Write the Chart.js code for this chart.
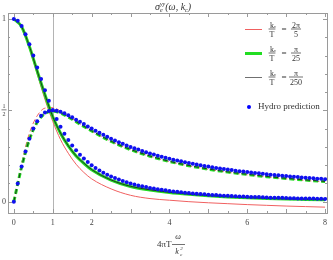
<!DOCTYPE html>
<html>
<head>
<meta charset="utf-8">
<script src="https://cdn.jsdelivr.net/npm/chart.js@4.4.0/dist/chart.umd.min.js"></script>
<style>
html, body { margin: 0; padding: 0; background: #fff; }
#wrap { width: 333px; height: 260px; }
</style>
</head>
<body>
<div id="wrap"><canvas id="myChart" width="333" height="260"></canvas></div>
<script>
// omega values used for the three curves
let lineW = [0, 0.2, 0.4, 0.6, 0.8, 1, 1.2, 1.4, 1.6, 1.8, 2, 2.5, 3, 3.5, 4, 4.5, 5, 5.5, 6, 6.5, 7, 7.5, 8];

// k/T = 2pi/5 (red)
let redRe = [1, 0.955, 0.84, 0.70, 0.56, 0.44, 0.34, 0.265, 0.205, 0.16, 0.125, 0.07, 0.035, 0.017, 0.008, 0.0, -0.006, -0.011, -0.016, -0.02, -0.024, -0.027, -0.03];
let redIm = [0, 0.21, 0.375, 0.47, 0.512, 0.515, 0.496, 0.468, 0.44, 0.412, 0.386, 0.33, 0.285, 0.249, 0.219, 0.196, 0.177, 0.161, 0.147, 0.135, 0.125, 0.116, 0.108];

// k/T = pi/25 (green)
let greenRe = [1, 0.958, 0.85, 0.715, 0.585, 0.465, 0.375, 0.305, 0.25, 0.21, 0.175, 0.118, 0.083, 0.064, 0.05, 0.04, 0.032, 0.026, 0.021, 0.017, 0.014, 0.012, 0.01];
let greenIm = [0, 0.19, 0.34, 0.435, 0.482, 0.495, 0.485, 0.463, 0.438, 0.412, 0.387, 0.33, 0.285, 0.249, 0.22, 0.197, 0.178, 0.162, 0.149, 0.137, 0.127, 0.118, 0.11];

// k/T = pi/250 (black) sits on top of the green one
let blackRe = [1, 0.958, 0.851, 0.716, 0.586, 0.466, 0.376, 0.306, 0.251, 0.211, 0.176, 0.119, 0.084, 0.065, 0.051, 0.041, 0.033, 0.027, 0.022, 0.018, 0.015, 0.013, 0.011];
let blackIm = [0, 0.19, 0.341, 0.436, 0.483, 0.496, 0.486, 0.464, 0.439, 0.413, 0.388, 0.331, 0.286, 0.25, 0.221, 0.198, 0.179, 0.163, 0.15, 0.138, 0.128, 0.119, 0.111];

// hydro prediction (blue dots)
let hydroW = [0, 0.1, 0.2, 0.3, 0.4, 0.5, 0.6, 0.7, 0.8, 0.9, 1, 1.1, 1.2, 1.3, 1.4, 1.5, 1.6, 1.7, 1.8, 1.9, 2, 2.1, 2.2, 2.3, 2.4, 2.5, 2.6, 2.7, 2.8, 2.9, 3, 3.1, 3.2, 3.3, 3.4, 3.5, 3.6, 3.7, 3.8, 3.9, 4, 4.1, 4.2, 4.3, 4.4, 4.5, 4.6, 4.7, 4.8, 4.9, 5, 5.1, 5.2, 5.3, 5.4, 5.5, 5.6, 5.7, 5.8, 5.9, 6, 6.1, 6.2, 6.3, 6.4, 6.5, 6.6, 6.7, 6.8, 6.9, 7, 7.1, 7.2, 7.3, 7.4, 7.5, 7.6, 7.7, 7.8, 7.9, 8];
let hydroRe = [1, 0.990, 0.962, 0.917, 0.862, 0.800, 0.735, 0.671, 0.610, 0.552, 0.500, 0.452, 0.410, 0.372, 0.338, 0.308, 0.281, 0.257, 0.236, 0.217, 0.200, 0.185, 0.171, 0.159, 0.148, 0.138, 0.129, 0.121, 0.113, 0.106, 0.100, 0.094, 0.089, 0.084, 0.080, 0.075, 0.072, 0.068, 0.065, 0.062, 0.059, 0.056, 0.054, 0.051, 0.049, 0.047, 0.045, 0.043, 0.042, 0.040, 0.038, 0.037, 0.036, 0.034, 0.033, 0.032, 0.031, 0.030, 0.029, 0.028, 0.027, 0.026, 0.025, 0.025, 0.024, 0.023, 0.022, 0.022, 0.021, 0.021, 0.020, 0.019, 0.019, 0.018, 0.018, 0.017, 0.017, 0.017, 0.016, 0.016, 0.015];
let hydroIm = [0, 0.099, 0.192, 0.275, 0.345, 0.400, 0.441, 0.470, 0.488, 0.497, 0.500, 0.498, 0.492, 0.484, 0.473, 0.462, 0.449, 0.437, 0.425, 0.412, 0.400, 0.388, 0.377, 0.366, 0.355, 0.345, 0.335, 0.326, 0.317, 0.308, 0.300, 0.292, 0.285, 0.278, 0.271, 0.264, 0.258, 0.252, 0.246, 0.241, 0.235, 0.230, 0.225, 0.221, 0.216, 0.212, 0.208, 0.204, 0.200, 0.196, 0.192, 0.189, 0.185, 0.182, 0.179, 0.176, 0.173, 0.170, 0.167, 0.165, 0.162, 0.160, 0.157, 0.155, 0.153, 0.150, 0.148, 0.146, 0.144, 0.142, 0.140, 0.138, 0.136, 0.135, 0.133, 0.131, 0.130, 0.128, 0.126, 0.125, 0.123];

let xTicks = [0, 1, 2, 4, 6, 8];
let legendNames = ["2\u03c0|5", "\u03c0|25", "\u03c0|250"];
let legendColors = ["#f06060", "#22dd22", "#707070"];

function pts(xs, ys) {
    return xs.map((x, i) => ({ x: x, y: ys[i] }));
}

function lineSet(xs, ys, color, width, dashed, order) {
    return {
        data: pts(xs, ys),
        showLine: true,
        borderColor: color,
        borderWidth: width,
        borderDash: dashed ? [5, 3] : [],
        pointRadius: 0,
        cubicInterpolationMode: "monotone",
        fill: false,
        order: order
    };
}

const SERIF = "'Liberation Serif', 'DejaVu Serif', serif";

// fraction helper
function frac(ctx, num, den, cx, cy, size) {
    ctx.font = size + "px " + SERIF;
    ctx.textAlign = "center";
    let w = Math.max(ctx.measureText(num).width, ctx.measureText(den).width) + 2;
    ctx.textBaseline = "alphabetic";
    ctx.fillText(num, cx, cy - 2);
    ctx.fillText(den, cx, cy + size - 0.5);
    ctx.beginPath();
    ctx.moveTo(cx - w / 2, cy - 0.5);
    ctx.lineTo(cx + w / 2, cy - 0.5);
    ctx.lineWidth = 0.7;
    ctx.stroke();
    return w;
}

const framePlugin = {
    id: "frame",
    beforeDatasetsDraw(chart) {
        let ctx = chart.ctx, a = chart.chartArea, x = chart.scales.x;
        ctx.save();
        ctx.strokeStyle = "#b4b4b4";
        ctx.lineWidth = 1;
        let px = Math.round(x.getPixelForValue(1)) + 0.5;
        ctx.beginPath();
        ctx.moveTo(px, a.top);
        ctx.lineTo(px, a.bottom);
        ctx.stroke();
        ctx.restore();
    },
    afterDraw(chart) {
        let ctx = chart.ctx, a = chart.chartArea, x = chart.scales.x, y = chart.scales.y;
        ctx.save();
        ctx.strokeStyle = "#9a9a9a";
        ctx.lineWidth = 1;
        ctx.strokeRect(Math.round(a.left) + 0.5, Math.round(a.top) + 0.5, Math.round(a.right - a.left), Math.round(a.bottom - a.top));
        // x ticks, top and bottom
        ctx.beginPath();
        for (let v = 0; v <= 8; v += 0.5) {
            let p = Math.round(x.getPixelForValue(v)) + 0.5;
            let len = Number.isInteger(v) ? 4 : 2;
            ctx.moveTo(p, a.bottom); ctx.lineTo(p, a.bottom - len);
            ctx.moveTo(p, a.top); ctx.lineTo(p, a.top + len);
        }
        for (let v = 0; v <= 1.001; v += 0.1) {
            let p = Math.round(y.getPixelForValue(v)) + 0.5;
            let len = (Math.abs(v - 0.5) < 0.01 || v < 0.01 || v > 0.99) ? 4 : 2;
            ctx.moveTo(a.left, p); ctx.lineTo(a.left + len, p);
            ctx.moveTo(a.right, p); ctx.lineTo(a.right - len, p);
        }
        ctx.stroke();

        // tick labels
        ctx.fillStyle = "#444";
        ctx.strokeStyle = "#444";
        ctx.font = "8px " + SERIF;
        ctx.textAlign = "center";
        ctx.textBaseline = "middle";
        xTicks.forEach(v => ctx.fillText(String(v), x.getPixelForValue(v), a.bottom + 10));
        ctx.textAlign = "right";
        ctx.fillText("1", a.left - 2, y.getPixelForValue(1));
        ctx.fillText("0", a.left - 2, y.getPixelForValue(0));
        frac(ctx, "1", "2", a.left - 4, y.getPixelForValue(0.5), 6);

        // title
        ctx.fillStyle = "#333";
        ctx.textBaseline = "alphabetic";
        ctx.textAlign = "left";
        let tx = 155, ty = 10;
        ctx.font = "italic 10px " + SERIF;
        ctx.fillText("\u03c3", tx, ty);
        tx += ctx.measureText("\u03c3").width;
        ctx.font = "italic 6px " + SERIF;
        ctx.fillText("yy", tx, ty - 4);
        ctx.fillText("e", tx, ty + 2);
        tx += ctx.measureText("yy").width;
        ctx.font = "italic 10px " + SERIF;
        ctx.fillText("(\u03c9, k", tx, ty);
        tx += ctx.measureText("(\u03c9, k").width;
        ctx.font = "italic 6px " + SERIF;
        ctx.fillText("c", tx, ty + 2);
        tx += ctx.measureText("c").width;
        ctx.font = "italic 10px " + SERIF;
        ctx.fillText(")", tx, ty);

        // x axis title
        ctx.font = "9px " + SERIF;
        ctx.textAlign = "left";
        ctx.fillText("4\u03c0T", 157, 247);
        ctx.strokeStyle = "#333";
        ctx.font = "italic 8px " + SERIF;
        ctx.textAlign = "center";
        ctx.fillText("\u03c9", 178, 239);
        ctx.beginPath();
        ctx.moveTo(172, 244.5); ctx.lineTo(185, 244.5);
        ctx.lineWidth = 0.7;
        ctx.stroke();
        ctx.fillText("k", 177, 254);
        ctx.font = "italic 5px " + SERIF;
        ctx.fillText("2", 181.5, 250);
        ctx.fillText("c", 181, 256);

        // legend
        let rows = [29.5, 53.5, 77.5];
        let widths = [1, 3, 1];
        rows.forEach((ry, i) => {
            ctx.strokeStyle = legendColors[i];
            ctx.lineWidth = widths[i];
            ctx.beginPath();
            ctx.moveTo(245, ry); ctx.lineTo(262, ry);
            ctx.stroke();
            ctx.fillStyle = "#333";
            ctx.strokeStyle = "#333";
            frac(ctx, "k", "T", 272, ry, 8);
            ctx.font = "5px " + SERIF;
            ctx.textAlign = "left";
            ctx.fillText("c", 274, ry - 1.5);
            ctx.font = "9px " + SERIF;
            ctx.textAlign = "center";
            ctx.textBaseline = "middle";
            ctx.fillText("=", 284, ry);
            ctx.textBaseline = "alphabetic";
            let parts = legendNames[i].split("|");
            frac(ctx, parts[0], parts[1], 296, ry, 8);
        });
        ctx.fillStyle = "#0000ff";
        ctx.beginPath();
        ctx.arc(249, 107, 2, 0, Math.PI * 2);
        ctx.fill();
        ctx.fillStyle = "#333";
        ctx.font = "9px " + SERIF;
        ctx.textAlign = "left";
        ctx.textBaseline = "middle";
        ctx.fillText("Hydro prediction", 258, 107);
        ctx.restore();
    }
};

let ctx = document.getElementById("myChart").getContext("2d");
let myChart = new Chart(ctx, {
    type: "scatter",
    data: {
        datasets: [
            lineSet(lineW, redRe, "#f06060", 1, false, 5),
            lineSet(lineW, redIm, "#f06060", 1, true, 5),
            lineSet(lineW, greenRe, "#22dd22", 3, false, 4),
            lineSet(lineW, greenIm, "#22dd22", 3, true, 4),
            lineSet(lineW, blackRe, "#202020", 0.9, false, 2),
            lineSet(lineW, blackIm, "#202020", 0.9, true, 2),
            {
                data: pts(hydroW, hydroRe),
                pointRadius: 2,
                pointBackgroundColor: "#1010f0",
                pointBorderWidth: 0,
                showLine: false,
                order: 0
            },
            {
                data: pts(hydroW, hydroIm),
                pointRadius: 2,
                pointBackgroundColor: "#1010f0",
                pointBorderWidth: 0,
                showLine: false,
                order: 0
            }
        ]
    },
    options: {
        responsive: false,
        animation: false,
        layout: { padding: { left: 8, right: 6, top: 13, bottom: 47 } },
        plugins: { legend: { display: false }, tooltip: { enabled: false } },
        scales: {
            x: { type: "linear", min: -0.15, max: 8.05, display: false },
            y: { min: -0.062, max: 1.033, display: false }
        }
    },
    plugins: [framePlugin]
});
</script>
</body>
</html>
